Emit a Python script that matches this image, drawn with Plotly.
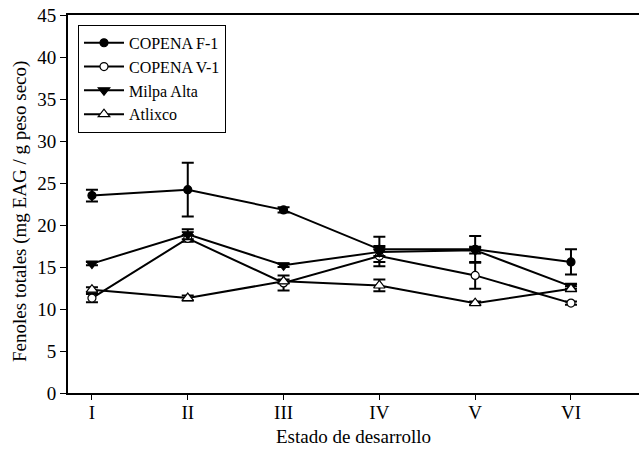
import plotly.graph_objects as go

stages = ["I", "II", "III", "IV", "V", "VI"]
xpos = [1, 2, 3, 4, 5, 6]

f1 = [23.5, 24.2, 21.8, 17.1, 17.1, 15.6]
f1_err = [0.7, 3.2, 0.3, 1.5, 1.6, 1.5]
v1 = [11.3, 18.4, 13.1, 16.3, 14.0, 10.7]
v1_err = [0.5, 0.4, 0.9, 1.2, 1.6, 0.2]
milpa = [15.4, 18.9, 15.2, 16.8, 17.0, 12.7]
milpa_err = [0.2, 0.6, 0.2, 0.5, 0.4, 0.3]
atl = [12.3, 11.3, 13.3, 12.8, 10.7, 12.4]
atl_err = [0.3, 0.3, 0.2, 0.7, 0.2, 0.3]

names = ["COPENA F-1", "COPENA V-1", "Milpa Alta", "Atlixco"]
symbols = ["circle", "circle", "triangle-down", "triangle-up"]
fills = ["black", "white", "black", "white"]
sizes = [8, 8, 10, 10]

fig = go.Figure()
for name, y, e, sym, fc, sz in zip(names, [f1, v1, milpa, atl], [f1_err, v1_err, milpa_err, atl_err], symbols, fills, sizes):
    fig.add_trace(go.Scatter(
        x=xpos, y=y, name=name, mode="lines+markers",
        line=dict(color="black", width=2),
        marker=dict(symbol=sym, size=sz, color=fc, line=dict(color="black", width=1.2)),
        error_y=dict(type="data", array=e, visible=True, color="black", thickness=2, width=6),
    ))

font = "Liberation Serif"
fig.update_layout(
    width=639, height=449,
    margin=dict(l=68, r=0, t=15, b=56),
    paper_bgcolor="white", plot_bgcolor="white",
    font=dict(family=font, color="black", size=19),
    showlegend=True,
    legend=dict(x=0.0175, y=0.974, xanchor="left", yanchor="top",
                bordercolor="black", borderwidth=1, bgcolor="white",
                font=dict(family=font, size=16, color="black"), tracegroupgap=0, itemwidth=40),
    xaxis=dict(range=[0.75, 6.71], tickvals=xpos, ticktext=stages, automargin=False,
               showline=True, linecolor="black", linewidth=2, mirror=True,
               ticks="outside", ticklen=5, tickcolor="black", showgrid=False, zeroline=False,
               ticklabelstandoff=-4,
               tickfont=dict(family=font, size=19, color="black")),
    yaxis=dict(range=[0, 45], tickvals=[0, 5, 10, 15, 20, 25, 30, 35, 40, 45], automargin=False,
               showline=True, linecolor="black", linewidth=2,
               ticks="outside", ticklen=6, tickcolor="black", showgrid=False, zeroline=False,
               tickfont=dict(family=font, size=19, color="black")),
    annotations=[
        dict(text="Estado de desarrollo", x=0.5, y=-0.1164, xref="paper", yref="paper",
             xanchor="center", yanchor="middle", showarrow=False,
             font=dict(family=font, size=19, color="black")),
        dict(text="Fenoles totales (mg EAG / g peso seco)", x=-0.084, y=0.479, xref="paper", yref="paper",
             xanchor="center", yanchor="middle", showarrow=False, textangle=-90,
             font=dict(family=font, size=19, color="black")),
    ],
)

fig.write_html("out.html", post_script="document.body.style.margin='0';",
               config={"displayModeBar": False})
